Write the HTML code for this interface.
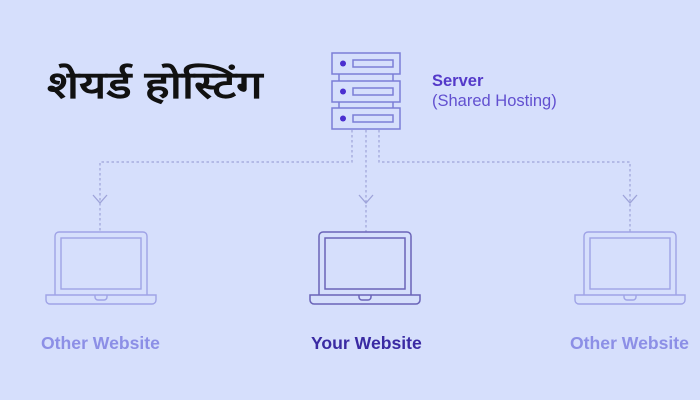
<!DOCTYPE html>
<html><head><meta charset="utf-8"><style>
html,body{margin:0;padding:0;}
body{width:700px;height:400px;background:#d6dffc;position:relative;overflow:hidden;font-family:"Liberation Sans",sans-serif;}
.t{position:absolute;white-space:nowrap;}
</style></head><body>
<svg width="700" height="400" style="position:absolute;left:0;top:0">
<g fill="none" stroke="#7b7fd6" stroke-width="1.5">
 <rect x="332" y="53" width="68" height="21"/>
 <rect x="332" y="81" width="68" height="21"/>
 <rect x="332" y="108" width="68" height="21"/>
 <line x1="339" y1="74" x2="339" y2="81"/><line x1="393" y1="74" x2="393" y2="81"/>
 <line x1="339" y1="102" x2="339" y2="108"/><line x1="393" y1="102" x2="393" y2="108"/>
 <rect x="353" y="60" width="40" height="7"/>
 <rect x="353" y="88" width="40" height="7"/>
 <rect x="353" y="115" width="40" height="7"/>
</g>
<g fill="#4b2fd0"><circle cx="343" cy="63.5" r="3"/><circle cx="343" cy="91.5" r="3"/><circle cx="343" cy="118.5" r="3"/></g>
<g fill="none" stroke="#9ea3d9" stroke-width="1.2" stroke-dasharray="2.5,2.5">
 <path d="M352 130 V162 H100 V232"/>
 <path d="M379 130 V162 H630 V232"/>
 <path d="M366 130 V232"/>
</g>
<g fill="none" stroke="#9ea3d9" stroke-width="1.3">
 <path d="M93 195 L100 203 L107 195"/>
 <path d="M359 195 L366 203 L373 195"/>
 <path d="M623 195 L630 203 L637 195"/>
</g>
<g fill="none" stroke="#9fa3e6" stroke-width="1.4">
 <g transform="translate(101,0)">
  <path d="M-46 295 V236 a4 4 0 0 1 4 -4 H42 a4 4 0 0 1 4 4 V295"/>
  <rect x="-40" y="238" width="80" height="51"/>
  <path d="M-55 295 H55 V300 a4 4 0 0 1 -4 4 H-51 a4 4 0 0 1 -4 -4 Z"/>
  <path d="M-6 295 v2 a3 3 0 0 0 3 3 h6 a3 3 0 0 0 3 -3 v-2"/>
 </g>
 <g transform="translate(630,0)">
  <path d="M-46 295 V236 a4 4 0 0 1 4 -4 H42 a4 4 0 0 1 4 4 V295"/>
  <rect x="-40" y="238" width="80" height="51"/>
  <path d="M-55 295 H55 V300 a4 4 0 0 1 -4 4 H-51 a4 4 0 0 1 -4 -4 Z"/>
  <path d="M-6 295 v2 a3 3 0 0 0 3 3 h6 a3 3 0 0 0 3 -3 v-2"/>
 </g>
</g>
<g fill="none" stroke="#6a64b8" stroke-width="1.5" transform="translate(365,0)">
  <path d="M-46 295 V236 a4 4 0 0 1 4 -4 H42 a4 4 0 0 1 4 4 V295"/>
  <rect x="-40" y="238" width="80" height="51"/>
  <path d="M-55 295 H55 V300 a4 4 0 0 1 -4 4 H-51 a4 4 0 0 1 -4 -4 Z"/>
  <path d="M-6 295 v2 a3 3 0 0 0 3 3 h6 a3 3 0 0 0 3 -3 v-2"/>
</g>
</svg>
<div class="t" style="left:47px;top:58px;font-size:38px;font-weight:bold;color:#111;transform:scaleX(1.24);transform-origin:0 0;">शेयर्ड होस्टिंग</div>
<div class="t" style="left:432px;top:72px;font-size:16.5px;font-weight:bold;color:#5439c9;">Server</div>
<div class="t" style="left:432px;top:92px;font-size:16.5px;color:#6250d0;">(Shared Hosting)</div>
<div class="t" style="left:41px;top:333px;font-size:17.6px;font-weight:bold;color:#8c8fe6;">Other Website</div>
<div class="t" style="left:311px;top:333px;font-size:17.6px;font-weight:bold;color:#3a2aa3;">Your Website</div>
<div class="t" style="left:570px;top:333px;font-size:17.6px;font-weight:bold;color:#8c8fe6;">Other Website</div>
</body></html>
